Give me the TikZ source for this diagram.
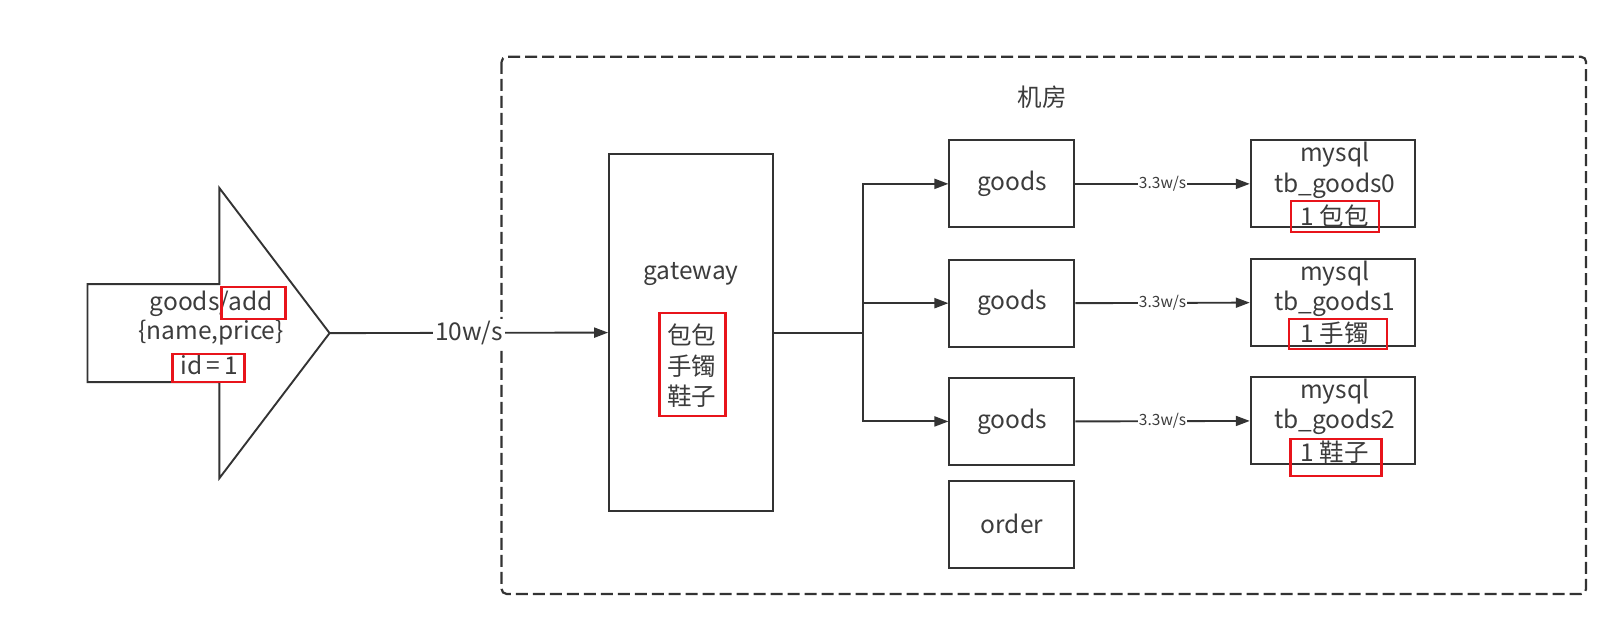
\documentclass[tikz,border=0pt]{standalone}
\usepackage{fontspec}
\setmainfont{Noto Sans CJK SC}
\usetikzlibrary{arrows.meta}
\definecolor{ln}{HTML}{333333}
\definecolor{tx}{HTML}{3C3C3C}
\definecolor{rd}{HTML}{E8141B}
\begin{document}
\begin{tikzpicture}[x=1.03pt,y=-1.033pt,
  box/.style={draw=ln, line width=1.9pt, inner sep=0pt},
  lbl/.style={text=tx, font=\fontsize{24.5}{29}\selectfont, inner sep=0pt},
  small/.style={text=tx, font=\fontsize{15.5}{18}\selectfont, fill=white, inner sep=1pt},
  redbox/.style={draw=rd, line width=2.4pt, inner sep=0pt},
  conn/.style={draw=ln, line width=1.9pt},
  arr/.style={conn, -{Triangle[length=14pt,width=10pt]}}
]
\useasboundingbox (0,0) rectangle (1571,603);
% machine room
\draw[ln, line width=2.2pt, dash pattern=on 12pt off 5pt, rounded corners=5pt] (487,55) rectangle (1540,575);
\node[lbl] (room) at (1012,94) {机房};
% request arrow shape
\draw[ln, line width=1.9pt, line join=miter] (85,275) -- (213,275) -- (213,182) -- (320,322.5) -- (213,463) -- (213,370) -- (85,370) -- cycle;
\coordinate (tip) at (320,322.5);
\node[lbl] (t1) at (205,294) {goods/add};
\node[lbl] (t2) at (205,322) {\{name,price\}};
\node[lbl] (t3) at (203,353) {id\,=\,1};
\node[redbox, minimum width=64pt, minimum height=32pt] (r1) at (246,293.5) {};
\node[redbox, minimum width=72pt, minimum height=28pt] (r2) at (202.5,356.5) {};
% gateway
\node[box, minimum width=164pt, minimum height=357pt] (gw) at (671,322) {};
\node[lbl] (gwl) at (671,265) {gateway};
\node[lbl] (c1) at (671.5,324) {包包};
\node[lbl] (c2) at (671.5,355) {手镯};
\node[lbl] (c3) at (671.5,384) {鞋子};
\node[redbox, minimum width=66pt, minimum height=103pt] (r3) at (672.5,353) {};
\draw[arr] (tip) -- node[lbl, fill=white, inner sep=2pt] (rate) {10w/s} (gw.west);
% goods services
\node[box, minimum width=125pt, minimum height=87pt] (g1) at (982.5,178) {};
\node[box, minimum width=125pt, minimum height=87pt] (g2) at (982.5,293.5) {};
\node[box, minimum width=125pt, minimum height=87pt] (g3) at (982.5,408) {};
\node[box, minimum width=125pt, minimum height=87pt] (g4) at (982.5,507.5) {};
\node[lbl] at (g1) {goods};
\node[lbl] at (g2) {goods};
\node[lbl] at (g3) {goods};
\node[lbl] at (g4) {order};
% branch
\draw[conn] (gw.east) -- (837.5,322) coordinate (br);
\draw[arr] (br) |- (g1.west);
\draw[arr] (br) |- (g2.west);
\draw[arr] (br) |- (g3.west);
% mysql
\node[box, minimum width=164pt, minimum height=87pt] (m1) at (1294,178) {};
\node[box, minimum width=164pt, minimum height=87pt] (m2) at (1294,293) {};
\node[box, minimum width=164pt, minimum height=87pt] (m3) at (1294,407.5) {};
\node[lbl] at (1296,150) {mysql};
\node[lbl] at (1296,179.5) {tb\_goods0};
\node[lbl] at (1296,209) {1 包包};
\node[lbl] at (1296,265) {mysql};
\node[lbl] at (1296,294) {tb\_goods1};
\node[lbl] at (1296,323) {1 手镯};
\node[lbl] at (1296,379) {mysql};
\node[lbl] at (1296,408) {tb\_goods2};
\node[lbl] at (1296,437.5) {1 鞋子};
\node[redbox, minimum width=88pt, minimum height=31pt] (r4) at (1296,209.5) {};
\node[redbox, minimum width=98pt, minimum height=30pt] (r5) at (1299,323.5) {};
\node[redbox, minimum width=91pt, minimum height=37pt] (r6) at (1297,443) {};
\draw[arr] (g1.east) -- node[small] {3.3w/s} (m1.west);
\draw[arr] (g2.east) -- node[small] {3.3w/s} (m2.west);
\draw[arr] (g3.east) -- node[small] {3.3w/s} (m3.west);
\end{tikzpicture}
\end{document}
